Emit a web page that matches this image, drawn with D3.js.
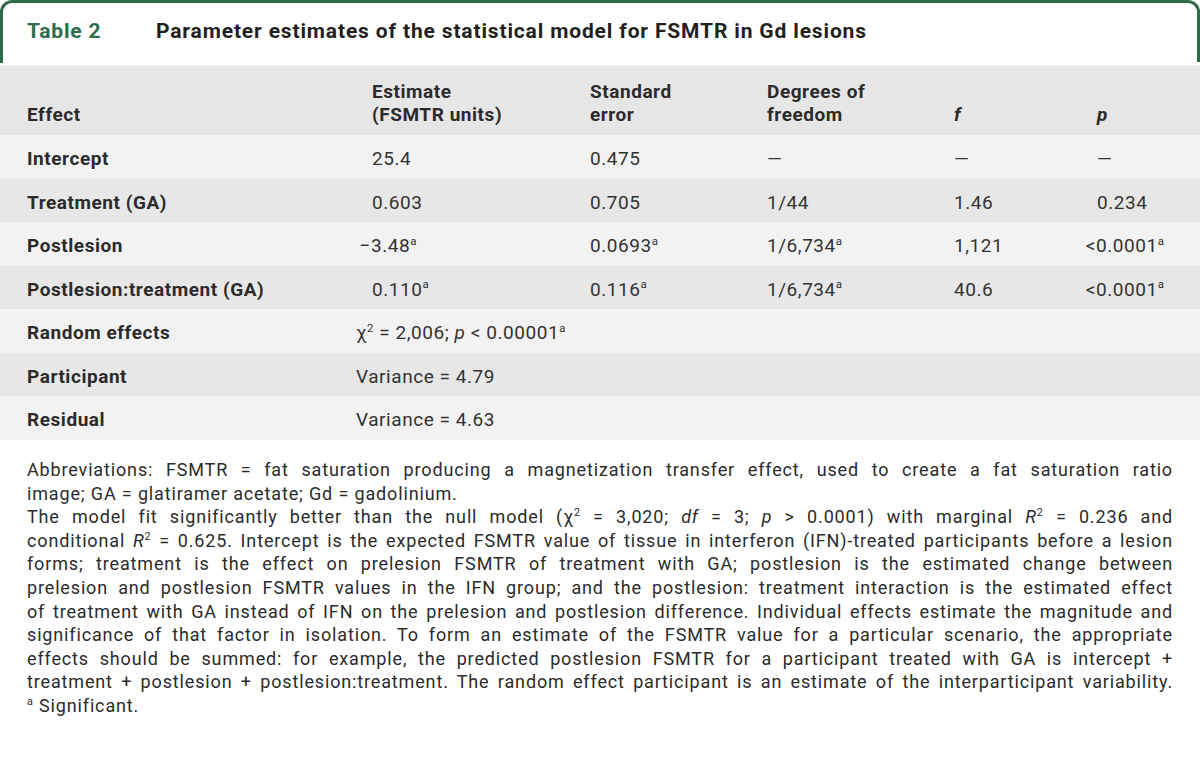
<!DOCTYPE html>
<html>
<head>
<meta charset="utf-8">
<script src="https://cdn.jsdelivr.net/npm/d3@7"></script>
<style>
  body { margin: 0; background: #fff; }
  svg { display: block; font-family: Roboto, "Liberation Sans", sans-serif; }
</style>
</head>
<body>
<script>
// table content
var tableNo = "Table 2";
var tableTitle = "Parameter estimates of the statistical model for FSMTR in Gd lesions";

var headerCols = ["effect", "estimate", "se", "dof", "f", "p"];
var headerLabels = [["Effect"], ["Estimate", "(FSMTR units)"], ["Standard", "error"], ["Degrees of", "freedom"], ["_f_"], ["_p_"]];

// fixed effects (^a^ = significant)
var effects = ["Intercept", "Treatment (GA)", "Postlesion", "Postlesion:treatment (GA)"];
var estimates = ["25.4", "0.603", "−3.48^a^", "0.110^a^"];
var stdErrors = ["0.475", "0.705", "0.0693^a^", "0.116^a^"];
var degFreedom = ["—", "1/44", "1/6,734^a^", "1/6,734^a^"];
var fValues = ["—", "1.46", "1,121", "40.6"];
var pValues = ["—", "0.234", "<0.0001^a^", "<0.0001^a^"];

// random effects
var randomLabels = ["Random effects", "Participant", "Residual"];
var randomValues = ["χ^2^ = 2,006; _p_ < 0.00001^a^", "Variance = 4.79", "Variance = 4.63"];

// footnote lines, true = justified
var notes = [
  ["Abbreviations: FSMTR = fat saturation producing a magnetization transfer effect, used to create a fat saturation ratio", true],
  ["image; GA = glatiramer acetate; Gd = gadolinium.", false],
  ["The model fit significantly better than the null model (χ^2^ = 3,020; _df_ = 3; _p_ > 0.0001) with marginal _R_^2^ = 0.236 and", true],
  ["conditional _R_^2^ = 0.625. Intercept is the expected FSMTR value of tissue in interferon (IFN)-treated participants before a lesion", true],
  ["forms; treatment is the effect on prelesion FSMTR of treatment with GA; postlesion is the estimated change between", true],
  ["prelesion and postlesion FSMTR values in the IFN group; and the postlesion: treatment interaction is the estimated effect", true],
  ["of treatment with GA instead of IFN on the prelesion and postlesion difference. Individual effects estimate the magnitude and", true],
  ["significance of that factor in isolation. To form an estimate of the FSMTR value for a particular scenario, the appropriate", true],
  ["effects should be summed: for example, the predicted postlesion FSMTR for a participant treated with GA is intercept +", true],
  ["treatment + postlesion + postlesion:treatment. The random effect participant is an estimate of the interparticipant variability.", true],
  ["^a^ Significant.", false]
];

var width = 1200, height = 779;
var green = "#2e6b4c";
var fs = 19, ls = 0.55;      // table text
var noteFs = 18, noteLs = 0.85; // footnotes

var svg = d3.select("body").append("svg")
    .attr("width", width)
    .attr("height", height);

// x positions of the columns
var x = d3.scaleOrdinal()
    .domain(headerCols)
    .range([27, 372, 590, 767, 954, 1097]);

var rowKeys = effects.concat(randomLabels);
var y = d3.scaleBand()
    .domain(rowKeys)
    .range([135, 440]);

// write text with _italic_ and ^sup^ markup into a text element
function rich(sel, str, size) {
    var parts = str.split(/(\^[^^]+\^|_[^_]+_)/).filter(function(s) { return s !== ""; });
    var shifted = false;
    parts.forEach(function(p) {
        var t = sel.append("tspan");
        if (p[0] === "^") {
            t.text(p.slice(1, -1)).attr("font-size", size * 0.6).attr("dy", -size * 0.38);
            shifted = true;
        } else {
            if (p[0] === "_") {
                t.text(p.slice(1, -1)).attr("font-style", "italic");
            } else {
                t.text(p);
            }
            if (shifted) { t.attr("dy", size * 0.38); shifted = false; }
        }
    });
}

// title frame
svg.append("path")
    .attr("d", "M1.5,63 V12 A10.5,10.5 0 0 1 12,1.5 H1188 A10.5,10.5 0 0 1 1198.5,12 V62")
    .attr("fill", "none")
    .attr("stroke", green)
    .attr("stroke-width", 3);

svg.append("text")
    .attr("x", 27).attr("y", 38)
    .attr("fill", green)
    .attr("font-size", 21)
    .attr("font-weight", 700)
    .attr("letter-spacing", 0.8)
    .text(tableNo);

svg.append("text")
    .attr("x", 156).attr("y", 38)
    .attr("fill", "#231f20")
    .attr("font-size", 21)
    .attr("font-weight", 700)
    .attr("letter-spacing", 0.85)
    .text(tableTitle);

// header band
svg.append("rect")
    .attr("x", 0).attr("y", 65.5)
    .attr("width", width).attr("height", 135 - 65.5)
    .attr("fill", "#e6e6e6");

var head = svg.append("g").attr("class", "header");
headerCols.forEach(function(c, i) {
    var lines = headerLabels[i];
    lines.forEach(function(l, j) {
        var t = head.append("text")
            .attr("x", x(c))
            .attr("y", 121 - (lines.length - 1 - j) * 23.5)
            .attr("font-size", fs)
            .attr("font-weight", 700)
            .attr("letter-spacing", ls)
            .attr("fill", "#2b2b2b");
        rich(t, l, fs);
    });
});

// row bands
svg.append("g").selectAll("rect")
    .data(rowKeys)
    .enter().append("rect")
        .attr("x", 0)
        .attr("y", function(d) { return y(d); })
        .attr("width", width)
        .attr("height", y.bandwidth())
        .attr("fill", function(d, i) { return i % 2 === 0 ? "#f2f2f2" : "#e7e7e7"; });

// row labels
svg.append("g").selectAll("text")
    .data(rowKeys)
    .enter().append("text")
        .attr("x", x("effect"))
        .attr("y", function(d) { return y(d) + 30; })
        .attr("font-size", fs)
        .attr("font-weight", 700)
        .attr("letter-spacing", ls)
        .attr("fill", "#2b2b2b")
        .text(function(d) { return d; });

// value cells, leading "−" or "<" hangs to the left of the column
var cells = [];
[["estimate", estimates], ["se", stdErrors], ["dof", degFreedom], ["f", fValues], ["p", pValues]].forEach(function(col) {
    col[1].forEach(function(v, i) { cells.push({col: col[0], row: effects[i], v: v}); });
});
randomValues.forEach(function(v, i) { cells.push({col: "value", row: randomLabels[i], v: v}); });

var valG = svg.append("g");
cells.forEach(function(d) {
    var t = valG.append("text")
        .attr("y", y(d.row) + 30)
        .attr("font-size", fs)
        .attr("letter-spacing", ls)
        .attr("fill", "#333");
    var x0 = d.col === "value" ? 356 : x(d.col);
    var str = d.v;
    if (str[0] === "−" || str[0] === "<") {
        var m = valG.append("text").attr("font-size", fs).attr("letter-spacing", ls).text(str[0]);
        var w = m.node().getComputedTextLength();
        m.remove();
        x0 -= w + 1;
    }
    t.attr("x", x0);
    rich(t, str, fs);
});

// footnotes
var noteY = d3.scaleLinear().domain([0, notes.length - 1]).range([476, 712]);
var noteW = 1146;
var noteG = svg.append("g");
notes.forEach(function(n, i) {
    var t = noteG.append("text")
        .attr("x", 27)
        .attr("y", noteY(i))
        .attr("font-size", noteFs)
        .attr("letter-spacing", noteLs)
        .attr("fill", "#2b2b2b");
    rich(t, n[0], noteFs);
    if (n[1]) {
        var natural = t.node().getComputedTextLength();
        var spaces = (n[0].match(/ /g) || []).length;
        t.attr("word-spacing", (noteW - natural) / spaces);
    }
});
</script>
</body>
</html>
